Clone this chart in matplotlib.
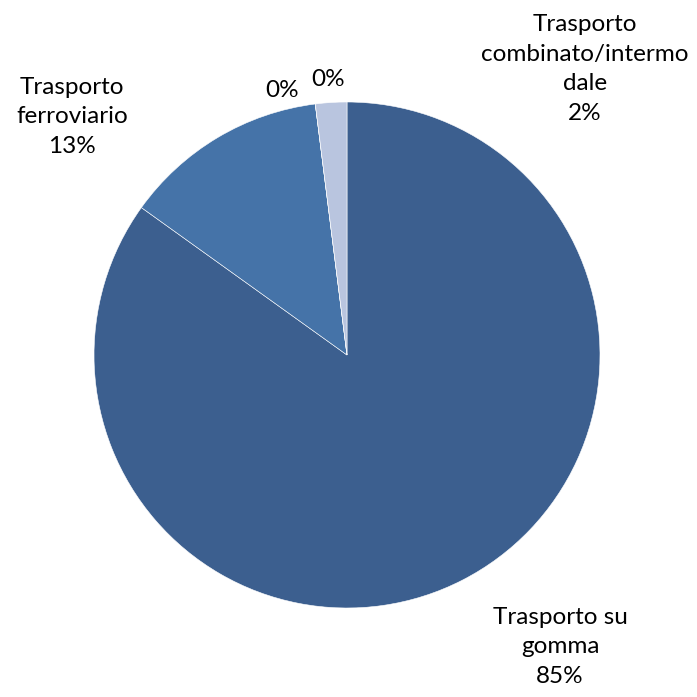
import matplotlib
matplotlib.use('Agg')
import matplotlib.pyplot as plt

labels = ["Trasporto su\ngomma", "Trasporto\nferroviario", "", "", "Trasporto\ncombinato/intermo\ndale"]
values = [84.9, 13.1, 0.0, 0.0, 2.0]
pct_txt = ["85%", "13%", "0%", "0%", "2%"]
colors = ["#3C5F8F", "#4573A8", "#4F81BD", "#95B3D7", "#B9C5DF"]

# label positions (centre of text, in pie-radius units)
lab_pos = [(0.842, -1.154), (-1.087, 0.941), (-0.257, 1.047), (-0.075, 1.087), (0.941, 1.130)]

fig = plt.figure(figsize=(6.97, 6.97), dpi=100)
ax = fig.add_axes([0, 0, 1, 1])
ax.pie(values, colors=colors, startangle=90, counterclock=False, radius=1.0,
       wedgeprops=dict(edgecolor="white", linewidth=0.4))
ax.set_xlim(-347/253, 350/253)
ax.set_ylim(-342/253, 355/253)
ax.set_aspect("equal")
ax.axis("off")

for lab, p, (x, y) in zip(labels, pct_txt, lab_pos):
    txt = (lab + "\n" + p) if lab else p
    ax.text(x, y, txt, ha="center", va="center", fontsize=17.5, family="Lato",
            linespacing=1.5, color="#000000")

fig.savefig("out.png", dpi=100)
